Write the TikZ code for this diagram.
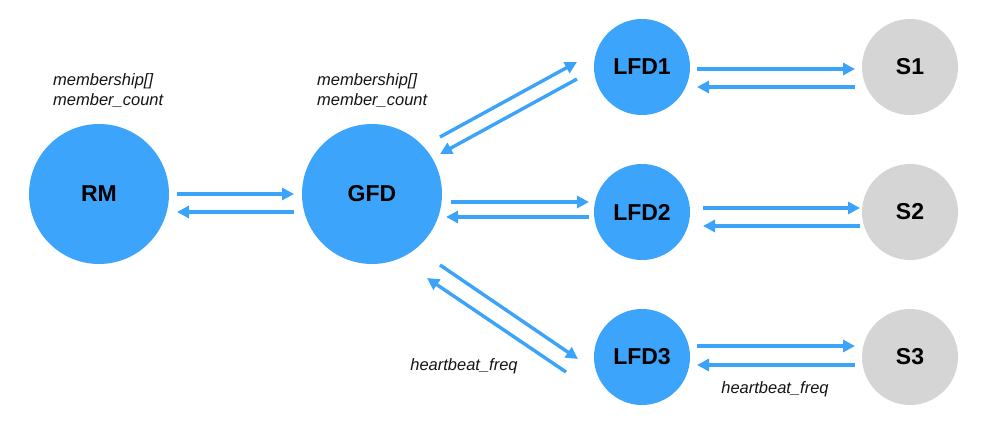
\documentclass[tikz,border=0pt]{standalone}
\usepackage{fontspec}
\setmainfont{Liberation Sans}
\usetikzlibrary{arrows.meta,calc}
\definecolor{nodeblue}{RGB}{60,164,250}
\definecolor{arrblue}{RGB}{59,163,250}
\definecolor{srvgrey}{RGB}{213,213,213}
\definecolor{txt}{RGB}{20,20,20}
\tikzset{
  big/.style={circle,fill=nodeblue,minimum size=140pt,inner sep=0pt,font=\fontsize{23}{27}\selectfont\bfseries,text=black},
  lfd/.style={circle,fill=nodeblue,minimum size=96pt,inner sep=0pt,font=\fontsize{23}{27}\selectfont\bfseries,text=black},
  srv/.style={circle,fill=srvgrey,minimum size=96pt,inner sep=0pt,font=\fontsize{23}{27}\selectfont\bfseries,text=black},
  arr/.style={draw=arrblue,line width=3.4pt,-{Triangle[length=12pt,width=12pt]}},
  lbl/.style={font=\fontsize{16.5}{20}\selectfont\itshape,text=txt,align=left,inner sep=0pt}
}
\begin{document}
\begin{tikzpicture}[x=1pt,y=-1pt]
\useasboundingbox (0,0) rectangle (1001,444);
\node[big] (RM) at (99,194) {RM};
\node[big] (GFD) at (372,194) {GFD};
\node[lfd] (LFD1) at (642,67) {LFD1};
\node[lfd] (LFD2) at (642,212) {LFD2};
\node[lfd] (LFD3) at (642,357) {LFD3};
\node[srv] (S1) at (910,67) {S1};
\node[srv] (S2) at (910,212) {S2};
\node[srv] (S3) at (910,357) {S3};

\node[lbl,anchor=west] (lRM) at (53,91) {membership[]\\member\_count};
\node[lbl,anchor=west] (lGFD) at (317,91) {membership[]\\member\_count};
\node[lbl] (hb1) at (464,366) {heartbeat\_freq};
\node[lbl] (hb2) at (775,389) {heartbeat\_freq};

% RM <-> GFD
\draw[arr] ($(RM)+(78,0)$) -- ($(GFD)+(-78,0)$);
\draw[arr] ($(GFD)+(-78,18)$) -- ($(RM)+(78,18)$);
% GFD <-> LFD1
\draw[arr] ($(GFD)+(68,-57)$) -- ($(LFD1)+(-65,-5)$);
\draw[arr] ($(LFD1)+(-65,12)$) -- ($(GFD)+(68,-40)$);
% GFD <-> LFD2
\draw[arr] ($(GFD)+(79,8)$) -- ($(LFD2)+(-53,-10)$);
\draw[arr] ($(LFD2)+(-53,5)$) -- ($(GFD)+(74,23)$);
% GFD <-> LFD3
\draw[arr] ($(GFD)+(68,71)$) -- ($(LFD3)+(-64,2)$);
\draw[arr] ($(LFD3)+(-76,15)$) -- ($(GFD)+(55,84)$);
% LFD <-> S
\draw[arr] ($(LFD1)+(55,2)$) -- ($(S1)+(-55,2)$);
\draw[arr] ($(S1)+(-55,20)$) -- ($(LFD1)+(55,20)$);
\draw[arr] ($(LFD2)+(61,-4)$) -- ($(S2)+(-50,-4)$);
\draw[arr] ($(S2)+(-50,14)$) -- ($(LFD2)+(61,14)$);
\draw[arr] ($(LFD3)+(55,-11)$) -- ($(S3)+(-55,-11)$);
\draw[arr] ($(S3)+(-55,8)$) -- ($(LFD3)+(55,8)$);
\end{tikzpicture}
\end{document}
